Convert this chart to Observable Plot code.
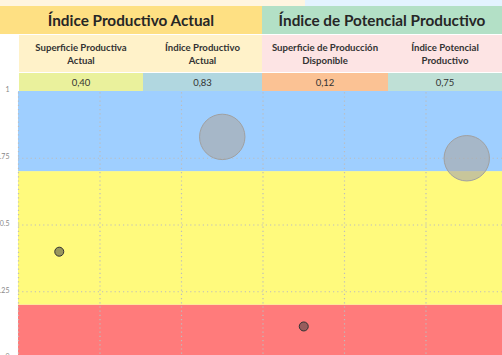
<!DOCTYPE html>
<html><head><meta charset="utf-8">
<script src="https://cdn.jsdelivr.net/npm/d3@7"></script>
<script src="https://cdn.jsdelivr.net/npm/@observablehq/plot@0.6"></script>
<style>
html,body{margin:0;padding:0;width:502px;height:355px;overflow:hidden;background:#fff;font-family:Lato,"Open Sans",sans-serif;}
#wrap{position:relative;width:502px;height:355px;overflow:hidden;}
#chart{position:absolute;left:0;top:0;width:510px;}
#chart svg{max-width:none !important;}
.cell{position:absolute;display:flex;align-items:center;justify-content:center;text-align:center;box-sizing:border-box;white-space:pre-line;}
</style></head><body>
<div id="wrap"><div id="chart"></div><div id="head"></div></div>
<script>
// ---- data ----
const grupos = ["Índice Productivo Actual", "Índice de Potencial Productivo"];
const subtitulos = ["Superficie Productiva\nActual", "Índice Productivo\nActual", "Superficie de Producción\nDisponible", "Índice Potencial\nProductivo"];
const valores = [0.40, 0.83, 0.12, 0.75];
const xValores = [0.5, 2.5, 3.5, 5.5];
const tipos = ["superficie", "indice", "superficie", "indice"];
const bandaNombre = ["bajo", "medio", "alto"];
const bandaDesde = [0, 0.2, 0.7];
const bandaHasta = [0.2, 0.7, 1];
const yTicks = [0, 0.25, 0.5, 0.75, 1];
const yGrid = [0.25, 0.5, 0.75];
const xGrid = [0, 1, 2, 3, 4, 5];

// ---- styles ----
const bandaColor = ["#ff7b7b", "#fffa7d", "#9fcfff"];
const grupoColor = ["#fee083", "#b3e0c6"];
const subColor = ["#fff2c9", "#fde4e4"];
const valorColor = ["#eaf19c", "#b1d7e0", "#fbc294", "#bfe0d6"];
const colBordes = [19, 143, 262, 388, 502];

const puntos = valores.map((v, i) => ({x: xValores[i], y: v, tipo: tipos[i]}));
const bandas = bandaNombre.map((n, i) => ({n, y1: bandaDesde[i], y2: bandaHasta[i]}));

const plot = Plot.plot({
  width: 510, height: 362,
  marginTop: 91, marginBottom: 4, marginLeft: 18, marginRight: 3,
  x: {domain: [0, 6], axis: null},
  y: {domain: [0, 1], axis: null},
  color: {domain: bandaNombre, range: bandaColor},
  style: {background: "transparent", fontFamily: "Lato, sans-serif", maxWidth: "none"},
  marks: [
    Plot.rect(bandas, {x1: d => 0, x2: d => 6, y1: "y1", y2: "y2", fill: "n"}),
    Plot.ruleY(yGrid, {stroke: "#bdbdbd", strokeDasharray: "1.2,3", strokeWidth: 1.2}),
    Plot.ruleX(xGrid, {y1: d => 0, y2: d => 1, stroke: "#bdbdbd", strokeDasharray: "1.2,3", strokeWidth: 1.2}),
    Plot.axisY({ticks: yTicks, tickSize: 0, tickPadding: 9, fontSize: 7, fill: "#888", dy: -1.5, tickFormat: d => String(d), label: null}),
    Plot.dot(puntos.filter(d => d.tipo === "indice"), {x: "x", y: "y", r: 22.7, fill: "#aaaaaa", fillOpacity: 0.65, stroke: "#a0a0a0", strokeWidth: 1}),
    Plot.dot(puntos.filter(d => d.tipo === "superficie"), {x: "x", y: "y", r: 4.5, fill: "#444", fillOpacity: 0.55, stroke: "#333", strokeWidth: 1})
  ]
});
plot.style.maxWidth = "none";
document.getElementById("chart").appendChild(plot);

// ---- header table ----
const head = document.getElementById("head");
function cell(x, y, w, h, bg, txt, css) {
  const d = document.createElement("div");
  d.className = "cell";
  Object.assign(d.style, {left: x + "px", top: y + "px", width: w + "px", height: h + "px", background: bg}, css || {});
  d.textContent = txt;
  head.appendChild(d);
}
cell(0, 0, 305, 6, "#fff5e0", "");
cell(305, 0, 197, 6, "#e3f3ff", "");
const gx = [0, 262, 502];
grupos.forEach((g, i) => cell(gx[i], 6, gx[i + 1] - gx[i], 28, grupoColor[i], g, {fontWeight: "700", fontSize: "15.3px", color: "#262626"}));
cell(0, 34, 502, 1, "#ffffff", "");
cell(colBordes[0], 35, colBordes[2] - colBordes[0], 37, subColor[0], "");
cell(colBordes[2], 35, colBordes[4] - colBordes[2], 37, subColor[1], "");
subtitulos.forEach((s, i) => cell(colBordes[i], 35, colBordes[i + 1] - colBordes[i], 37, "transparent", s, {fontWeight: "700", fontSize: "9.6px", lineHeight: "13px", color: "#333"}));
valores.forEach((v, i) => cell(colBordes[i], 73, colBordes[i + 1] - colBordes[i], 18, valorColor[i], v.toFixed(2).replace(".", ","), {fontSize: "9.5px", color: "#333"}));
</script>
</body></html>
